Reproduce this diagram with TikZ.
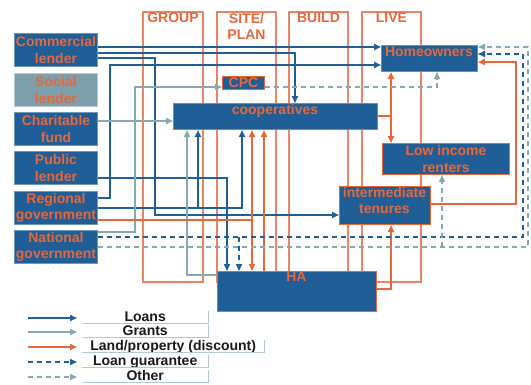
\documentclass[tikz,border=0pt]{standalone}
\usepackage{fontspec}
\setmainfont{Liberation Sans}
\usetikzlibrary{arrows.meta}

\definecolor{boxblue}{HTML}{1F5E96}
\definecolor{hot}{HTML}{E8673A}
\definecolor{colline}{HTML}{EC8462}
\definecolor{grantc}{HTML}{86A9B6}
\definecolor{socialc}{HTML}{7C9FA9}
\definecolor{leftedge}{HTML}{6F98BD}
\definecolor{legedge}{HTML}{B5C9D3}
\definecolor{legtext}{HTML}{1A1A1A}

\tikzset{
  tipend/.style={-{Triangle[length=7pt,width=6pt]}},
  tipboth/.style={{Triangle[length=7pt,width=6pt]}-{Triangle[length=7pt,width=6pt]}},
  loanline/.style={draw=boxblue, line width=1.6pt},
  grantline/.style={draw=grantc, line width=1.6pt},
  landline/.style={draw=hot, line width=1.6pt},
  guarline/.style={draw=boxblue, line width=1.5pt, dash pattern=on 5pt off 4pt},
  otherline/.style={draw=grantc, line width=1.5pt, dash pattern=on 5pt off 4pt},
  loan/.style={loanline, tipend},
  grant/.style={grantline, tipend},
  land/.style={landline, tipend},
  guar/.style={guarline, tipend},
  other/.style={otherline, tipend},
  column/.style={draw=colline, line width=1.1pt},
  bigfont/.style={font=\fontsize{14}{16.5}\selectfont\bfseries},
  header/.style={bigfont, text=hot, align=center, inner sep=0pt},
  panel/.style={fill=boxblue, draw=hot, line width=1pt, inner sep=0pt, anchor=north west},
  srcbox/.style={panel, draw=leftedge, minimum width=83pt, minimum height=33pt},
  paneltext/.style={bigfont, text=hot, align=center, inner sep=0pt},
  legbox/.style={bigfont, text=legtext, inner sep=0.5pt, text height=10pt, text depth=0pt,
                 minimum height=12pt, anchor=south west},
  legedge/.style={draw=legedge, line width=0.8pt}
}

\begin{document}
\begin{tikzpicture}[x=1pt, y=-1pt]
\useasboundingbox (0,0) rectangle (531,384);

% stage columns
\draw[column] (143,12) rectangle (203,282);
\draw[column] (217,12) rectangle (276,282);
\draw[column] (289,12) rectangle (348,282);
\draw[column] (362,12) rectangle (421,282);
\node[header] (hgroup) at (173,18) {GROUP};
\node[header] (hsite) at (246.5,26.5) {SITE/\\PLAN};
\node[header] (hbuild) at (318.5,18) {BUILD};
\node[header] (hlive) at (391.5,18) {LIVE};

% funding sources
\node[srcbox] (com) at (14,33) {};
\node[paneltext] (comT) at (com.center) {Commercial\\lender};
\node[srcbox, fill=socialc, draw=legedge] (soc) at (14,73) {};
\node[paneltext] (socT) at (soc.center) {Social\\lender};
\node[srcbox] (char) at (14,112) {};
\node[paneltext] (charT) at (char.center) {Charitable\\fund};
\node[srcbox] (pub) at (14,151) {};
\node[paneltext] (pubT) at (pub.center) {Public\\lender};
\node[srcbox] (reg) at (14,191) {};
\node[paneltext] (regT) at (reg.center) {Regional\\government};
\node[srcbox] (nat) at (14,230) {};
\node[paneltext] (natT) at (nat.center) {National\\government};

% delivery bodies and tenures
\node[panel, minimum width=42pt, minimum height=13pt] (cpc) at (222,76) {};
\node[paneltext] (cpcT) at (cpc.center) {CPC};
\node[panel, minimum width=204pt, minimum height=26pt] (coop) at (173,103) {};
\node[paneltext, anchor=north] (coopT) at (275,104.5) {cooperatives};
\node[panel, minimum width=96pt, minimum height=26pt] (home) at (381,45) {};
\node[paneltext, anchor=north] (homeT) at (429,46.5) {Homeowners};
\node[panel, minimum width=127pt, minimum height=31pt] (low) at (382,143) {};
\node[paneltext] (lowT) at (low.center) {Low income\\renters};
\node[panel, minimum width=91pt, minimum height=38pt] (inter) at (339,186) {};
\node[paneltext, anchor=north] (interT) at (384.5,187) {intermediate\\tenures};
\node[panel, minimum width=159pt, minimum height=40pt] (ha) at (217,271) {};
\node[paneltext, anchor=north] (haT) at (296.5,272) {HA};

% loans
\draw[loan] (com.east |- 0,47) -- (home.west |- 0,47);
\draw[loan] (com.east |- 0,53) -| (coop.north -| 295,0);
\draw[loan] (com.east |- 0,58) -| (155,215) -- (inter.west |- 0,215);
\draw[loan] (reg.east |- 0,198) -| (110,65) -- (home.west |- 0,65);
\draw[loan] (reg.east |- 0,208) -| (coop.south -| 242,0);
\coordinate (regjoin) at (198,208);
\draw[loan] (regjoin) -- (coop.south -| 198,0);
\draw[loan] (pub.east |- 0,178) -| (ha.north -| 227,0);

% grants
\draw[grant] (char.east |- 0,121) -- (coop.west |- 0,121);
\draw[grant] (nat.east |- 0,232) -| (135,87) -- (cpc.west |- 0,87);
\draw[grant] (ha.west |- 0,275) -| (coop.south -| 187,0);

% land / property
\coordinate (landjoin) at (252,220);
\draw[landline] (reg.east |- 0,220) -- (landjoin);
\draw[landline, tipboth] (coop.south -| 252,0) -- (ha.north -| 252,0);
\draw[land] (ha.north -| 264,0) -- (coop.south -| 264,0);
\coordinate (coopjoin) at (391,116);
\draw[landline] (coop.east |- 0,116) -- (coopjoin);
\draw[landline, tipboth] (home.south -| 391,0) -- (low.north -| 391,0);
\draw[land] (inter.east |- 0,204) -| (516,62) -- (home.east |- 0,62);
\draw[land] (ha.east |- 0,289) -| (inter.south -| 391,0);

% loan guarantees
\draw[guar] (nat.east |- 0,237) -| (523,54) -- (home.east |- 0,54);
\coordinate (guarjoin) at (239,237);
\draw[guar] (guarjoin) -- (ha.north -| 239,0);

% other support
\draw[other] (nat.east |- 0,247) -| (528,47) -- (home.east |- 0,47);
\coordinate (otherjoin) at (442,247);
\draw[other] (otherjoin) -- (low.south -| 442,0);
\draw[other] (cpc.east |- 0,87) -| (home.south -| 437,0);

% key
\node[legbox, minimum width=126pt] (k1) at (82,323) {Loans};
\node[legbox, minimum width=126pt] (k2) at (82,337) {Grants};
\node[legbox, minimum width=182pt] (k3) at (82,352) {Land/property (discount)};
\node[legbox, minimum width=126pt] (k4) at (82,367) {Loan guarantee};
\node[legbox, minimum width=126pt] (k5) at (82,382) {Other};
\foreach \k in {k1,k2,k3,k4,k5}
  \draw[legedge] (\k.north east) -- (\k.south east) -- (\k.south west);
\coordinate (s1) at (28,318);
\coordinate (s2) at (28,332);
\coordinate (s3) at (28,347);
\coordinate (s4) at (28,362);
\coordinate (s5) at (28,377);
\draw[loan]  (s1) -- ([xshift=-5pt]k1.west |- s1);
\draw[grant] (s2) -- ([xshift=-5pt]k2.west |- s2);
\draw[land]  (s3) -- ([xshift=-5pt]k3.west |- s3);
\draw[guar]  (s4) -- ([xshift=-5pt]k4.west |- s4);
\draw[other] (s5) -- ([xshift=-5pt]k5.west |- s5);
\end{tikzpicture}
\end{document}
